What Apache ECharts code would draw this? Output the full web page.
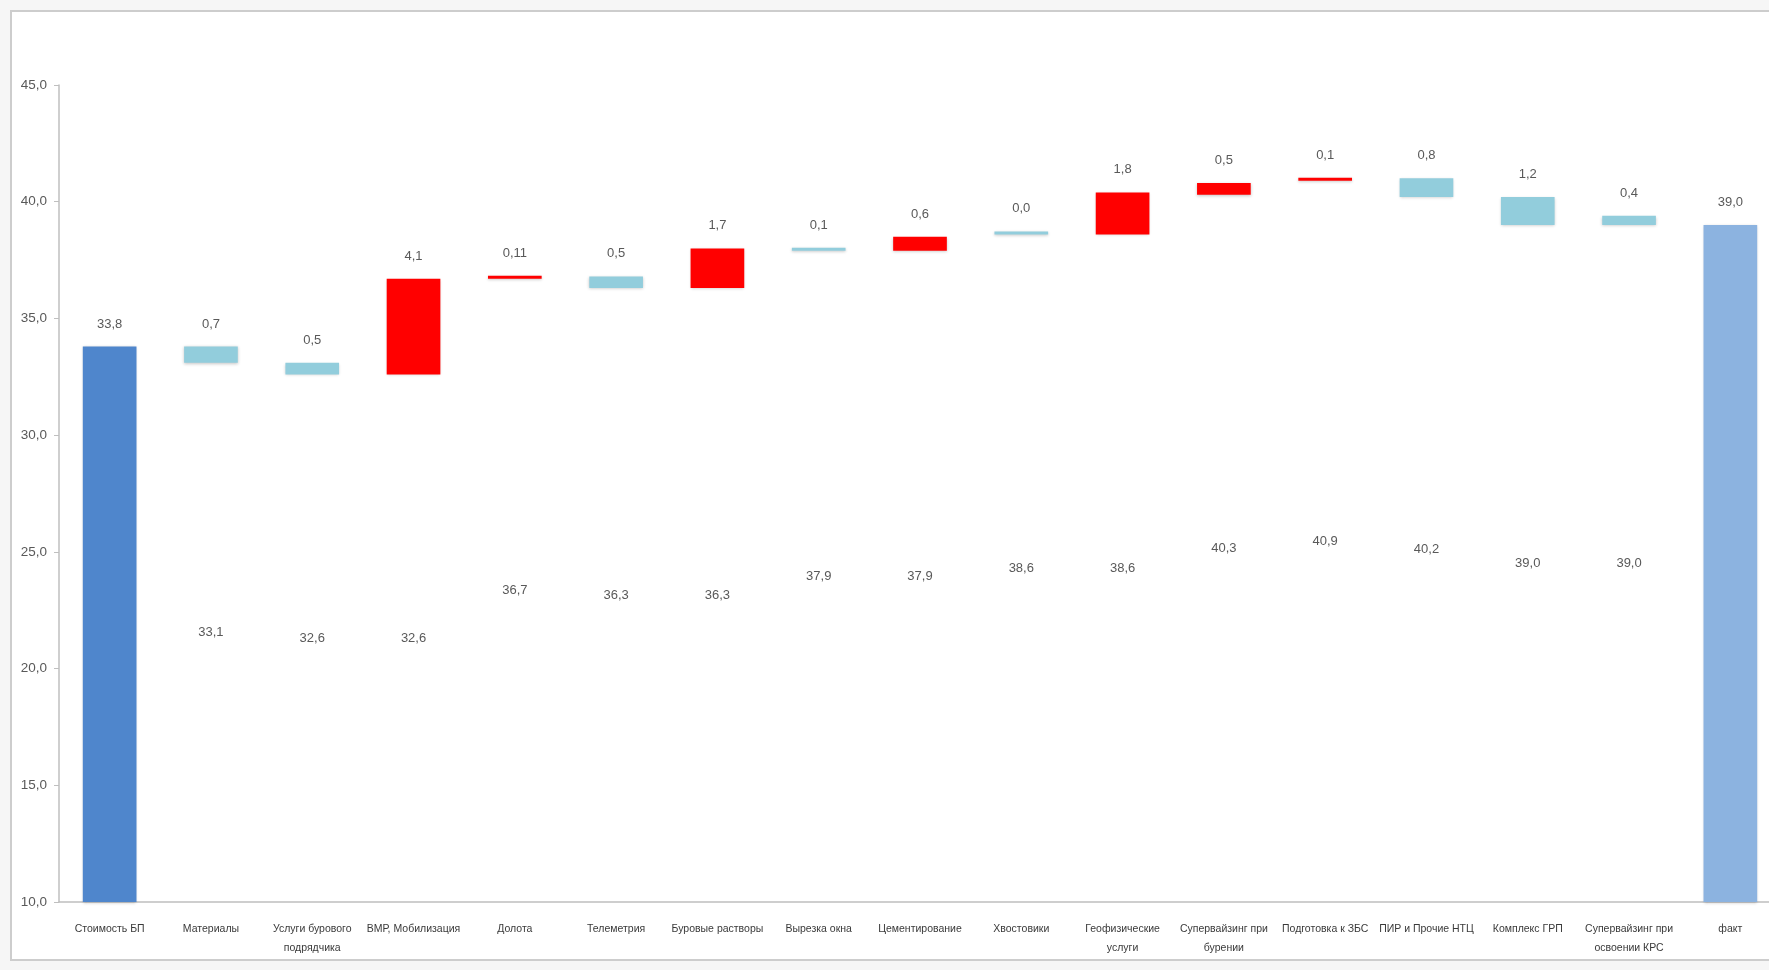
<!DOCTYPE html>
<html lang="ru">
<head>
<meta charset="utf-8">
<title>Стоимость БП — факт</title>
<script src="https://cdn.jsdelivr.net/npm/echarts@6/dist/echarts.min.js"></script>
<style>
  html, body { margin: 0; padding: 0; background: #f6f6f6; overflow: hidden; }
  #frame {
    position: absolute; left: 10px; top: 10px; width: 1800px; height: 951px;
    background: #ffffff; border: 2px solid #cdcdcd; box-sizing: border-box;
  }
  #chart { position: absolute; left: 0; top: 0; width: 1769px; height: 970px; }
</style>
</head>
<body>
<div id="frame"></div>
<div id="chart"></div>
<script>
// Статьи затрат (шаги водопада)
const categories = [
  'Стоимость БП',
  'Материалы',
  'Услуги бурового\nподрядчика',
  'ВМР, Мобилизация',
  'Долота',
  'Телеметрия',
  'Буровые растворы',
  'Вырезка окна',
  'Цементирование',
  'Хвостовики',
  'Геофизические\nуслуги',
  'Супервайзинг при\nбурении',
  'Подготовка к ЗБС',
  'ПИР и Прочие НТЦ',
  'Комплекс ГРП',
  'Супервайзинг при\nосвоении КРС',
  'факт'
];

// Тип шага: start / end — итоговые столбцы, up — рост, down — снижение
const kinds = [
  'start', 'down', 'down', 'up', 'up', 'down', 'up', 'down', 'up',
  'down', 'up', 'up', 'up', 'down', 'down', 'down', 'end'
];

// Основание каждого шага (нижняя граница видимого столбца)
const bases = [
  null, 33.1, 32.6, 32.6, 36.7, 36.3, 36.3, 37.9, 37.9,
  38.6, 38.6, 40.3, 40.9, 40.2, 39.0, 39.0, null
];

// Величина шага (для итоговых столбцов — полное значение)
const deltas = [
  33.8, 0.7, 0.5, 4.1, 0.11, 0.5, 1.7, 0.1, 0.6,
  0.0, 1.8, 0.5, 0.1, 0.8, 1.2, 0.4, 39.0
];

// Деления оси значений
const yMin = 10, yMax = 45, yStep = 5;

const kindColors = {
  start: '#4f86cc',
  end: '#8cb3e0',
  up: '#ff0000',
  down: '#92cddc'
};

function fmt(v) {
  const one = Math.abs(Math.round(v * 10) - v * 10) < 1e-9;
  return v.toFixed(one ? 1 : 2).replace('.', ',');
}

const labelFont = {
  fontFamily: 'Liberation Sans, sans-serif',
  fontSize: 13,
  color: '#595959'
};

const baseData = bases.map(function (b) {
  if (b === null) {
    return { value: 0, label: { show: false } };
  }
  return { value: b };
});

const deltaData = deltas.map(function (d, i) {
  return {
    value: d,
    itemStyle: { color: kindColors[kinds[i]] }
  };
});

const chart = echarts.init(document.getElementById('chart'), null, { renderer: 'canvas' });

chart.setOption({
  backgroundColor: 'transparent',
  animation: false,
  grid: {
    left: 59, width: 1722, top: 85, bottom: 68,
    containLabel: false,
    outerBoundsMode: 'none'
  },
  xAxis: {
    type: 'category',
    data: categories,
    axisLine: { show: true, lineStyle: { color: '#bfbfbf', width: 1.5 } },
    axisTick: { show: false },
    axisLabel: {
      interval: 0,
      margin: 18,
      fontFamily: 'Liberation Sans, sans-serif',
      fontSize: 10.5,
      lineHeight: 19,
      color: '#3a3a3a'
    }
  },
  yAxis: {
    type: 'value',
    min: yMin,
    max: yMax,
    interval: yStep,
    splitLine: { show: false },
    axisLine: { show: true, lineStyle: { color: '#bfbfbf', width: 1.5 } },
    axisTick: { show: true, inside: false, length: 5, lineStyle: { color: '#bfbfbf' } },
    axisLabel: {
      margin: 12,
      fontFamily: 'Liberation Sans, sans-serif',
      fontSize: 13.5,
      color: '#595959',
      formatter: function (v) { return fmt(v); }
    }
  },
  series: [
    {
      name: 'Основание',
      type: 'bar',
      stack: 'waterfall',
      barWidth: '53%',
      data: baseData,
      itemStyle: { color: 'rgba(0,0,0,0)' },
      emphasis: { disabled: true },
      silent: true,
      label: Object.assign({
        show: true,
        position: 'inside',
        formatter: function (p) { return fmt(p.value); }
      }, labelFont)
    },
    {
      name: 'Изменение',
      type: 'bar',
      stack: 'waterfall',
      barWidth: '53%',
      barMinHeight: 3,
      data: deltaData,
      itemStyle: {
        shadowBlur: 3,
        shadowOffsetY: 1,
        shadowColor: 'rgba(0,0,0,0.22)'
      },
      label: Object.assign({
        show: true,
        position: 'top',
        distance: 16,
        formatter: function (p) { return fmt(p.value); }
      }, labelFont)
    }
  ]
});
</script>
</body>
</html>
